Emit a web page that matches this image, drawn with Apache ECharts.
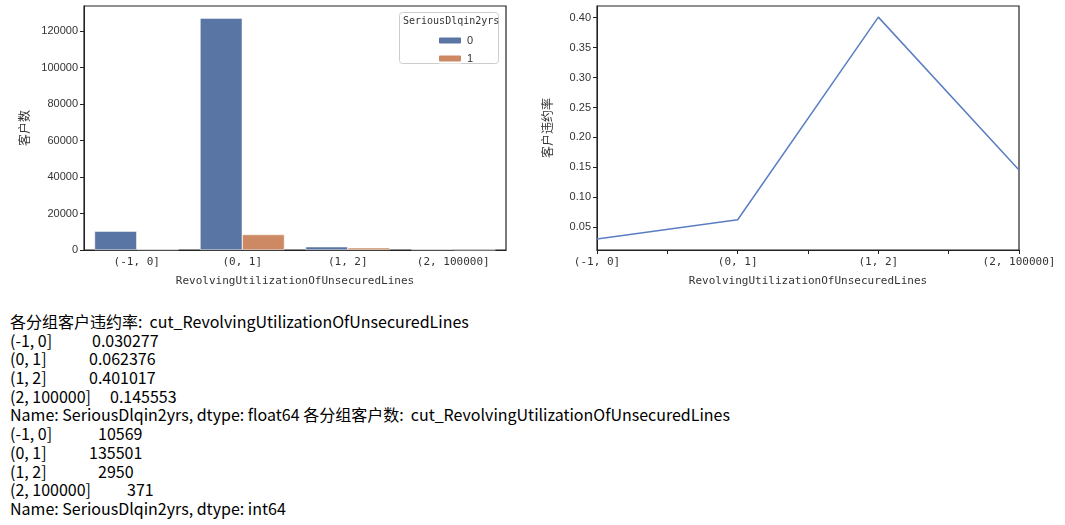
<!DOCTYPE html>
<html><head><meta charset="utf-8">
<script src="https://cdn.jsdelivr.net/npm/echarts@6/dist/echarts.min.js"></script>
<style>
body{margin:0;background:#fff;}
#c{position:absolute;left:0;top:0;width:1065px;height:300px;}
#t{position:absolute;left:10px;top:312px;font-family:"Noto Sans CJK SC","Noto Sans",sans-serif;font-size:16px;line-height:18.7px;color:#000;}
#t div{position:relative;height:18.7px;white-space:pre;}
#t span.v{position:absolute;top:0;}
</style></head><body>
<div id="c"></div>
<div id="t"></div>
<script>
const categories = ['(-1, 0]', '(0, 1]', '(1, 2]', '(2, 100000]'];
const count0 = [10249, 127049, 1767, 317];
const count1 = [320, 8452, 1183, 54];
const rates = [0.030277, 0.062376, 0.401017, 0.145553];
const totals = [10569, 135501, 2950, 371];
const yTicksLeft = [0, 20000, 40000, 60000, 80000, 100000, 120000];
const yTicksRight = [0.05, 0.10, 0.15, 0.20, 0.25, 0.30, 0.35, 0.40];

const mono = '"DejaVu Sans Mono", monospace';
const axLine = {show: true, lineStyle: {color: '#222', width: 1}};
const chart = echarts.init(document.getElementById('c'));
chart.setOption({
  animation: false,
  grid: [
    {left: 84, top: 6, width: 422, height: 244, show: true, borderColor: '#222', borderWidth: 1.2, backgroundColor: 'transparent'},
    {left: 597, top: 6, width: 422, height: 244, show: true, borderColor: '#222', borderWidth: 1.2, backgroundColor: 'transparent'}
  ],
  legend: {
    z: 20, zlevel: 1, orient: 'vertical', left: 432, top: 30, itemWidth: 24, itemHeight: 8, itemGap: 7,
    textStyle: {fontSize: 11, color: '#333', fontFamily: 'Arial'}, data: ['0', '1']
  },
  graphic: [
    {type: 'rect', left: 399, top: 12, shape: {width: 99, height: 51, r: 3}, style: {fill: '#fff', stroke: '#ccc', lineWidth: 1}, z: 5},
    {type: 'text', left: 403, top: 16, style: {text: 'SeriousDlqin2yrs', font: '10px ' + mono, fill: '#333'}, z: 6}
  ],
  xAxis: [
    {type: 'category', gridIndex: 0, data: categories, axisLine: axLine,
     axisTick: {alignWithLabel: true, length: 4, lineStyle: {color: '#222'}},
     axisLabel: {fontFamily: mono, fontSize: 11, color: '#333', margin: 7},
     name: 'RevolvingUtilizationOfUnsecuredLines', nameLocation: 'middle', nameGap: 26,
     nameTextStyle: {fontFamily: mono, fontSize: 11, color: '#333'}},
    {type: 'value', gridIndex: 1, min: 0, max: 3, interval: 0.5, axisLine: axLine,
     axisTick: {length: 4, lineStyle: {color: '#222'}}, splitLine: {show: false},
     axisLabel: {fontFamily: mono, fontSize: 11, color: '#333', margin: 7, showMinLabel: true, showMaxLabel: true,
       formatter: v => Number.isInteger(v) ? categories[v] : ''},
     name: 'RevolvingUtilizationOfUnsecuredLines', nameLocation: 'middle', nameGap: 26,
     nameTextStyle: {fontFamily: mono, fontSize: 11, color: '#333'}}
  ],
  yAxis: [
    {type: 'value', gridIndex: 0, min: 0, max: 133700, interval: 20000, axisLine: axLine,
     axisTick: {show: true, length: 4, lineStyle: {color: '#222'}}, splitLine: {show: false},
     axisLabel: {fontFamily: 'Arial', fontSize: 11, color: '#333', margin: 6, showMaxLabel: false,
       formatter: v => yTicksLeft.includes(v) ? String(v) : ''},
     name: '客户数', nameLocation: 'middle', nameGap: 54, nameRotate: 90,
     nameTextStyle: {fontFamily: '"Noto Sans CJK SC"', fontSize: 12, color: '#333'}},
    {type: 'value', gridIndex: 1, min: 0.0118, max: 0.4196, axisLine: axLine,
     axisTick: {show: true, length: 4, lineStyle: {color: '#222'}, customValues: yTicksRight}, splitLine: {show: false},
     axisLabel: {fontFamily: 'Arial', fontSize: 11, color: '#333', margin: 6, customValues: yTicksRight,
       formatter: v => v.toFixed(2)},
     name: '客户违约率', nameLocation: 'middle', nameGap: 44, nameRotate: 90,
     nameTextStyle: {fontFamily: '"Noto Sans CJK SC"', fontSize: 12, color: '#333'}}
  ],
  series: [
    {name: '0', type: 'bar', xAxisIndex: 0, yAxisIndex: 0, data: count0, barGap: '0%', barCategoryGap: '20%',
     itemStyle: {color: '#5975a4', borderColor: '#fff', borderWidth: 0.5}},
    {name: '1', type: 'bar', xAxisIndex: 0, yAxisIndex: 0, data: count1,
     itemStyle: {color: '#cc8963', borderColor: '#fff', borderWidth: 0.5}},
    {name: 'rate', type: 'line', xAxisIndex: 1, yAxisIndex: 1, data: rates.map((r, i) => [i, r]),
     symbol: 'none', lineStyle: {color: '#5b7ec3', width: 1.5}}
  ]
});

const lines = [
  ['各分组客户违约率:  cut_RevolvingUtilizationOfUnsecuredLines', null, 0],
  [categories[0], rates[0].toFixed(6), 82],
  [categories[1], rates[1].toFixed(6), 79],
  [categories[2], rates[2].toFixed(6), 79],
  [categories[3], rates[3].toFixed(6), 100],
  ['Name: SeriousDlqin2yrs, dtype: float64 各分组客户数:  cut_RevolvingUtilizationOfUnsecuredLines', null, 0],
  [categories[0], String(totals[0]), 88],
  [categories[1], String(totals[1]), 79],
  [categories[2], String(totals[2]), 88],
  [categories[3], String(totals[3]), 117],
  ['Name: SeriousDlqin2yrs, dtype: int64', null, 0]
];
const t = document.getElementById('t');
lines.forEach(([a, b, x]) => {
  const d = document.createElement('div');
  d.textContent = a;
  if (b) { const s = document.createElement('span'); s.className = 'v'; s.style.left = x + 'px'; s.textContent = b; d.appendChild(s); }
  t.appendChild(d);
});
</script>
</body></html>
